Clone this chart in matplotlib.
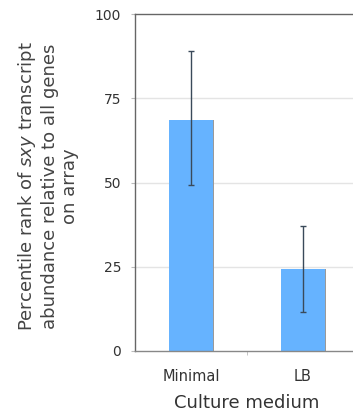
import numpy as np
import matplotlib
matplotlib.use('Agg')
import matplotlib.pyplot as plt

media = ['Minimal', 'LB']
rank = [68.5, 24.2]
err_low = [19.3, 12.6]
err_high = [20.5, 13.0]
yticks = [0, 25, 50, 75, 100]

plt.rcParams['font.family'] = 'DejaVu Sans'
fig = plt.figure(figsize=(3.53, 4.17), dpi=100, facecolor='w')
ax = fig.add_axes([0.3824, 0.1583, 0.6346, 0.8081])

x = np.arange(len(media))
ax.bar(x, rank, width=0.4, color='#66b3ff', edgecolor='none', zorder=2)
# slight shadow on right edge of bars
ax.bar(x + 0.2, rank, width=0.012, color='#9a9a9a', edgecolor='none', zorder=2)
ax.errorbar(x, rank, yerr=[err_low, err_high], fmt='none', ecolor='#3a4a5a',
            elinewidth=1.0, capsize=2.5, capthick=1.0, zorder=3)

ax.set_xlim(-0.5, 1.5)
ax.set_ylim(0, 100)
ax.set_yticks(yticks)
ax.set_yticklabels([str(v) for v in yticks], fontsize=10, color='#333333')
for v in yticks[1:-1]:
    ax.axhline(v, color='#e4e4e4', lw=1.0, zorder=1)

ax.set_xticks(x)
ax.set_xticklabels(media, fontsize=10.5, color='#333333')
ax.set_xticks([0.5], minor=True)
ax.tick_params(axis='x', which='major', length=0, pad=13)
ax.tick_params(axis='x', which='minor', length=3, color='#bbbbbb')
ax.tick_params(axis='y', length=3, color='#bbbbbb', pad=7)

for s in ['left', 'top', 'bottom']:
    ax.spines[s].set_color('#666666')
    ax.spines[s].set_linewidth(1.0)
ax.spines['bottom'].set_color('#888888')
ax.spines['right'].set_visible(False)

ax.set_xlabel('Culture medium', fontsize=13, color='#333333', labelpad=7)
ax.set_ylabel('Percentile rank of $\\it{sxy}$ transcript\nabundance relative to all genes\non array',
              fontsize=13, color='#444444', labelpad=9, linespacing=1.17)
ax.yaxis.set_label_coords(-0.25, 0.49)

fig.savefig('out.png', dpi=100)
